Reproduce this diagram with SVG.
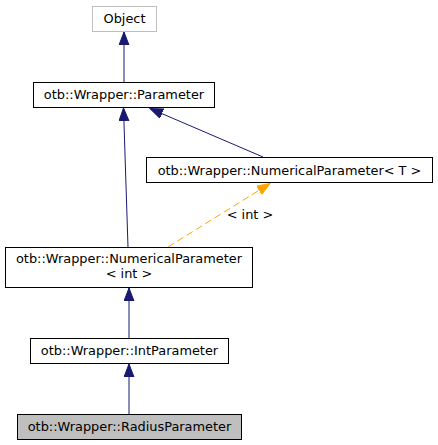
<svg xmlns="http://www.w3.org/2000/svg" width="438" height="445" viewBox="0 0 438 445">
<style>
  text { font-family: "DejaVu Sans", sans-serif; font-size: 12.9px; fill: #000; text-anchor: middle; }
  .box { fill: #fff; stroke: #000; stroke-width: 1; }
  .grey { fill: #fff; stroke: #bfbfbf; stroke-width: 1; }
  .cur { fill: #bfbfbf; stroke: #000; stroke-width: 1; }
  .e { fill: none; stroke: #191970; stroke-width: 1; }
  .t { fill: none; stroke: #ffa500; stroke-width: 1; stroke-dasharray: 7,4; }
</style>
<defs>
  <marker id="ab" markerUnits="userSpaceOnUse" markerWidth="14" markerHeight="11" refX="13" refY="5" orient="auto">
    <path d="M0,0 L13,5 L0,10 z" fill="#191970" stroke="#191970" stroke-width="1"/>
  </marker>
  <marker id="ao" markerUnits="userSpaceOnUse" markerWidth="14" markerHeight="11" refX="13" refY="5" orient="auto">
    <path d="M0,0 L13,5 L0,10 z" fill="#ffa500" stroke="#ffa500" stroke-width="1"/>
  </marker>
</defs>
<rect width="438" height="445" fill="#fff"/>
<g id="edges">
  <line class="e" x1="124" y1="82" x2="124" y2="32" marker-end="url(#ab)"/>
  <line class="e" x1="128" y1="247" x2="123.5" y2="108" marker-end="url(#ab)"/>
  <line class="e" x1="263" y1="157" x2="150" y2="108.5" marker-end="url(#ab)"/>
  <line class="t" x1="168" y1="247" x2="270" y2="183.5" marker-end="url(#ao)"/>
  <text x="250" y="219">&lt; int &gt;</text>
  <line class="e" x1="129" y1="338" x2="129" y2="288" marker-end="url(#ab)"/>
  <line class="e" x1="129" y1="414" x2="129" y2="364" marker-end="url(#ab)"/>
</g>
<g id="node-object">
  <rect class="grey" x="92.5" y="6.5" width="64" height="25"/>
  <text x="124.5" y="23">Object</text>
</g>
<g id="node-parameter">
  <rect class="box" x="33.5" y="82.5" width="181" height="25"/>
  <text x="124" y="99">otb::Wrapper::Parameter</text>
</g>
<g id="node-numerical-t">
  <rect class="box" x="146.5" y="157.5" width="286" height="25"/>
  <text x="289.5" y="174.5">otb::Wrapper::NumericalParameter&lt; T &gt;</text>
</g>
<g id="node-numerical-int">
  <rect class="box" x="5.5" y="247.5" width="247" height="40"/>
  <text x="129" y="262.5">otb::Wrapper::NumericalParameter</text>
  <text x="129" y="277.5">&lt; int &gt;</text>
</g>
<g id="node-int">
  <rect class="box" x="30.5" y="338.5" width="198" height="25"/>
  <text x="129.5" y="355">otb::Wrapper::IntParameter</text>
</g>
<g id="node-radius">
  <rect class="cur" x="17.5" y="414.5" width="224" height="25"/>
  <text x="129.5" y="431">otb::Wrapper::RadiusParameter</text>
</g>
</svg>
